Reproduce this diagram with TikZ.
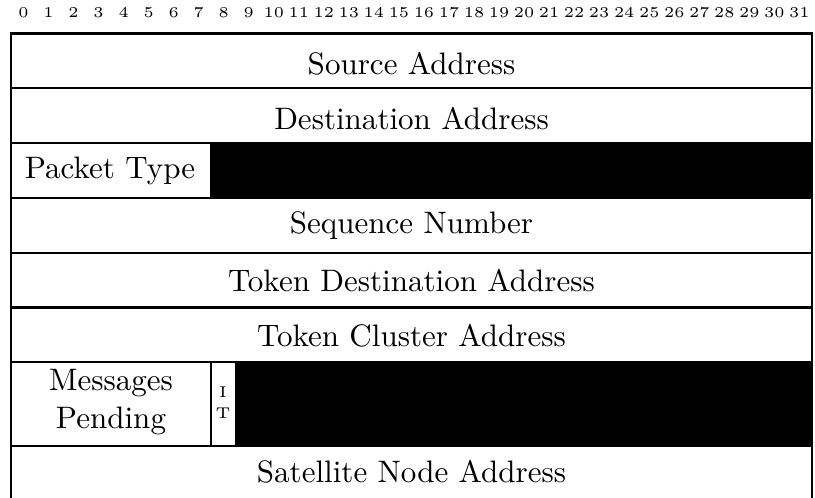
\documentclass[tikz,border=0pt]{standalone}
\begin{document}
\begin{tikzpicture}[x=0.33333pt,y=-0.33333pt,line width=0.75pt,
  field/.style={font=\fontsize{10.35}{12.4}\selectfont,inner sep=0pt,align=center},
  bitnum/.style={font=\tiny,inner sep=0pt},
  flag/.style={font=\fontsize{5.2}{7}\selectfont,inner sep=0pt,align=center}]
\useasboundingbox (0,0) rectangle (815,497);
\clip (0,0) rectangle (815,497);
\foreach \i in {0,...,31}
  \node[bitnum] (b\i) at ({11+25.03*(\i+0.5)},12.5) {\i};
% reserved (black) areas
\fill (211.25,143.1) rectangle (812,197.9);
\fill (236.3,362.3) rectangle (812,446);
% rows
\draw (11,33.5) rectangle (812,88.3);
\draw (11,88.3) rectangle (812,143.1);
\draw (11,143.1) rectangle (211.25,197.9);
\draw (211.25,143.1) rectangle (812,197.9);
\draw (11,197.9) rectangle (812,252.7);
\draw (11,252.7) rectangle (812,307.5);
\draw (11,307.5) rectangle (812,362.3);
\draw (11,362.3) rectangle (211.25,446);
\draw (211.25,362.3) rectangle (236.3,446);
\draw (236.3,362.3) rectangle (812,446);
\draw (11,446) rectangle (812,500.8);
% labels
\node[field] (src) at (411.5,64) {Source Address};
\node[field] (dst) at (411.5,119) {Destination Address};
\node[field] (ptype) at (110,171) {Packet Type};
\node[field] (seq) at (411.5,226) {Sequence Number};
\node[field] (tdst) at (411.5,281) {Token Destination Address};
\node[field] (tcl) at (411.5,336) {Token Cluster Address};
\node[field] (msg) at (111,402) {Messages\\Pending};
\node[flag] (it) at (223,403) {I\\T};
\node[field] (sat) at (411.5,472) {Satellite Node Address};
\end{tikzpicture}
\end{document}
